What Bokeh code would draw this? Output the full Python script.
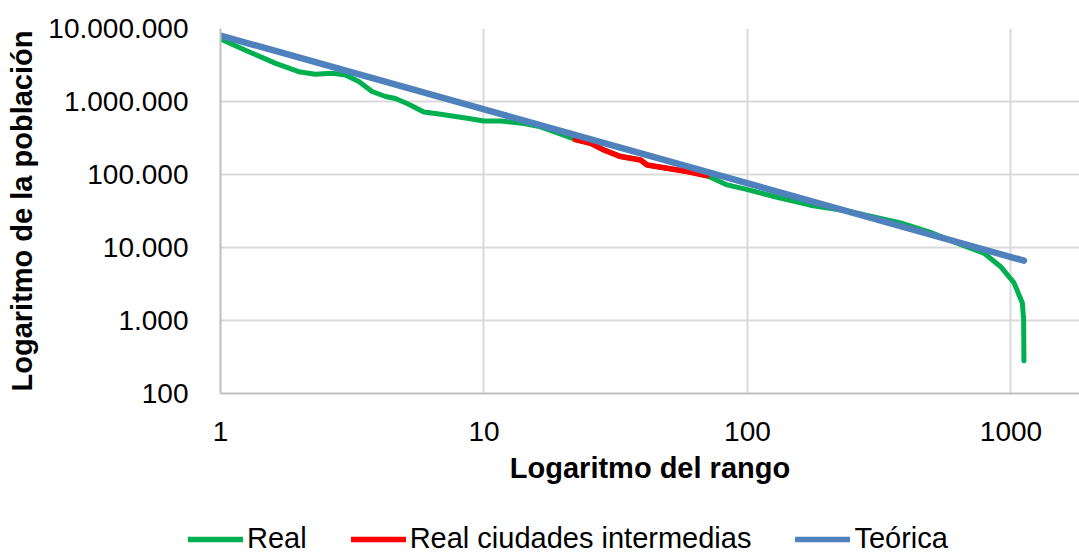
from bokeh.plotting import figure
from bokeh.models import Range1d, FixedTicker, CustomJSTickFormatter, Legend, LegendItem
from bokeh.embed import file_html
from bokeh.resources import INLINE

# ---- data ----
real_rank = [1, 1.28, 1.62, 1.98, 2.29, 2.65, 2.98, 3.35, 3.76, 4.23, 4.61, 5.11, 5.91, 6.84,
             8.63, 9.98, 11.6, 14.2, 16.4, 19, 22.2, 25.4, 28.5, 33, 39.3, 41.6, 49.5, 59,
             70.3, 83.7, 100, 126, 173, 246, 381, 495, 643, 789, 912, 1026, 1104, 1117, 1120]
real_pop = [7.2e6, 4.81e6, 3.33e6, 2.56e6, 2.36e6, 2.43e6, 2.31e6, 1.88e6, 1.37e6, 1.17e6,
            1.1e6, 0.94e6, 0.72e6, 0.67e6, 0.59e6, 0.54e6, 0.54e6, 0.5e6, 0.45e6, 0.37e6,
            302e3, 267e3, 217e3, 176e3, 158e3, 135e3, 122e3, 110e3, 96e3, 72e3, 62e3, 50e3,
            38e3, 31e3, 21.7e3, 16.1e3, 11e3, 8.4e3, 5.5e3, 3.3e3, 1.75e3, 1.04e3, 280]

inter_rank = [22.2, 25.4, 28.5, 33, 39.3, 41.6, 49.5, 59, 70.3]
inter_pop = [302e3, 267e3, 217e3, 176e3, 158e3, 135e3, 122e3, 110e3, 96e3]

theory_rank = [1, 1120]
theory_pop = [8.0e6, 6.6e3]

x_ticks = [1, 10, 100, 1000]
y_ticks = [100, 1000, 10000, 100000, 1000000, 10000000]

series_names = ["Real", "Real ciudades intermedias", "Teórica"]
series_colors = ["#00B050", "#FF0000", "#4F81BD"]
series_widths = [5, 5.5, 6.5]
x_title = "Logaritmo del rango"
y_title = "Logaritmo de la población"

FONT = "Liberation Sans"
FS = "28px"
FS_T = "29px"

p = figure(width=1079, height=510, x_axis_type="log", y_axis_type="log",
           x_range=Range1d(1, 1820), y_range=Range1d(100, 1e7),
           output_backend="svg", toolbar_location=None,
           min_border_left=220, min_border_right=0, min_border_top=28, min_border_bottom=117)
p.outline_line_color = None
p.background_fill_color = "white"
p.border_fill_color = "white"

for xs, ys, c, w in ((real_rank, real_pop, series_colors[0], series_widths[0]),
                     (inter_rank, inter_pop, series_colors[1], series_widths[1]),
                     (theory_rank, theory_pop, series_colors[2], series_widths[2])):
    p.line(xs, ys, line_color=c, line_width=w, line_join="round", line_cap="round")

y_fmt = CustomJSTickFormatter(code="""
return Math.round(tick).toString().replace(/\\B(?=(\\d{3})+(?!\\d))/g, '.');
""")
x_fmt = CustomJSTickFormatter(code="return Math.round(tick).toString();")

for ax, ticks, fmt in ((p.xaxis[0], x_ticks, x_fmt), (p.yaxis[0], y_ticks, y_fmt)):
    ax.ticker = FixedTicker(ticks=ticks, minor_ticks=[])
    ax.formatter = fmt
    ax.major_tick_line_color = None
    ax.minor_tick_line_color = None
    ax.axis_line_color = "#BFBFBF"
    ax.axis_line_width = 2
    ax.major_label_text_font = FONT
    ax.major_label_text_font_size = FS
    ax.major_label_text_color = "#000000"
    ax.axis_label_text_font = FONT
    ax.axis_label_text_font_size = FS_T
    ax.axis_label_text_font_style = "bold"
    ax.axis_label_text_color = "#000000"

p.xaxis.axis_label = x_title
p.yaxis.axis_label = y_title
p.xaxis.major_label_standoff = 22
p.xaxis.axis_label_standoff = 8
p.yaxis.major_label_standoff = 26
p.yaxis.axis_label_standoff = 7

p.xgrid.ticker = FixedTicker(ticks=x_ticks, minor_ticks=[])
p.ygrid.ticker = FixedTicker(ticks=y_ticks, minor_ticks=[])
for g in (p.xgrid[0], p.ygrid[0]):
    g.grid_line_color = "#D9D9D9"
    g.grid_line_width = 2

# ---- legend strip below the chart (separate root, so its frame spans the full width) ----
q = figure(width=1079, height=45, output_backend="svg", toolbar_location=None,
           x_range=Range1d(0, 1), y_range=Range1d(0, 1),
           x_axis_location=None, y_axis_location=None,
           min_border_left=0, min_border_right=0, min_border_top=0, min_border_bottom=0)
q.outline_line_color = None
q.xgrid.visible = False
q.ygrid.visible = False
q.border_fill_color = "white"
q.background_fill_color = "white"

items = []
for name, c in zip(series_names, series_colors):
    # off-range placeholder line, only used to draw the legend swatch
    r = q.line([-10, -9], [-10, -9], line_color=c, line_width=5.5, line_cap="round")
    items.append(LegendItem(label=name, renderers=[r]))

legend = Legend(items=items, location=(188, 0), orientation="horizontal",
                glyph_width=55, glyph_height=30, label_standoff=4, spacing=44,
                padding=0, margin=0, border_line_color=None, background_fill_alpha=0,
                label_text_font=FONT, label_text_font_size="29px", label_text_color="#000000")
q.add_layout(legend, "center")

open("out.html", "w").write(file_html([p, q], INLINE))
